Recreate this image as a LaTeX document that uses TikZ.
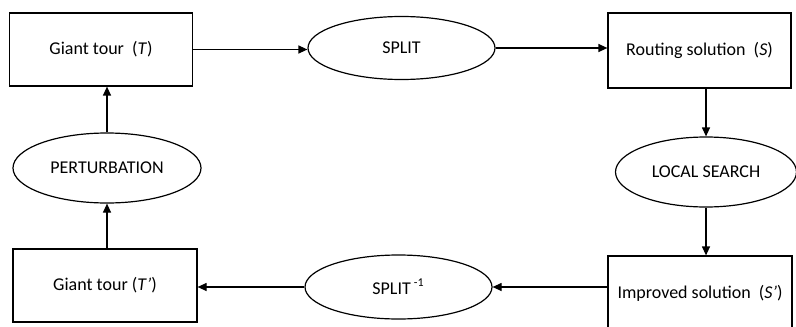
\documentclass[tikz,border=0pt]{standalone}
\usepackage{fontspec}
\setmainfont{Carlito}
\usetikzlibrary{shapes.geometric,arrows.meta}

\begin{document}
\begin{tikzpicture}[x=0.5pt, y=-0.5pt,
		font=\fontsize{9}{11}\selectfont,
		solbox/.style={draw, rectangle, line width=.6pt, inner sep=0pt},
		opellipse/.style={draw, ellipse, line width=.6pt, inner sep=0pt},
		flow/.style={line width=.6pt, -{Triangle[length=4.5pt, width=4pt]}}]
		\def\boxw{91.5pt} % Width of the solution boxes
		\def\boxh{37pt}   % Height of the solution boxes
		\def\ellw{93.5pt} % Width of the operator ellipses
		\def\ellh{32pt}   % Height of the operator ellipses
		
		\useasboundingbox (0,0) rectangle (796,326);
		
		% Top row
		\node[solbox, minimum width=\boxw, minimum height=36.5pt] (tourT)
		at (101,49.5) {Giant tour\ \ (\textit{T})};
		\node[opellipse, minimum width=\ellw, minimum height=31.5pt] (split)
		at (401.5,48) {SPLIT};
		\node[solbox, minimum width=\boxw, minimum height=37.5pt] (routS)
		at (699.5,50.5) {Routing solution\ \ (\textit{S})};
		
		% Side ellipses
		\node[opellipse, minimum width=94pt, minimum height=35pt] (pert)
		at (107,168) {PERTURBATION};
		\node[opellipse, minimum width=90.5pt, minimum height=35pt] (local)
		at (706,172) {LOCAL SEARCH};
		
		% Bottom row
		\node[solbox, minimum width=92pt, minimum height=36.5pt] (tourTp)
		at (105,285.5) {Giant tour (\textit{T}\textit{’})};
		\node[opellipse, minimum width=\ellw, minimum height=\ellh] (splitinv)
		at (398.5,287) {SPLIT\,\textsuperscript{-1}};
		\node[solbox, minimum width=92pt, minimum height=\boxh] (imprS)
		at (700,293) {Improved solution\ \ (\textit{S}\textit{’})};
		
		% Connectors
		\draw[flow] (tourT.east) -- (tourT.east -| split.west);
		\draw[flow] (split.east) -- (split.east -| routS.west);
		\draw[flow] (local.north |- routS.south) -- (local.north);
		\draw[flow] (local.south) -- (local.south |- imprS.north);
		\draw[flow] (splitinv.east -| imprS.west) -- (splitinv.east);
		\draw[flow] (splitinv.west) -- (splitinv.west -| tourTp.east);
		\draw[flow] (pert.south |- tourTp.north) -- (pert.south);
		\draw[flow] (pert.north) -- (pert.north |- tourT.south);
	\end{tikzpicture}
\end{document}
